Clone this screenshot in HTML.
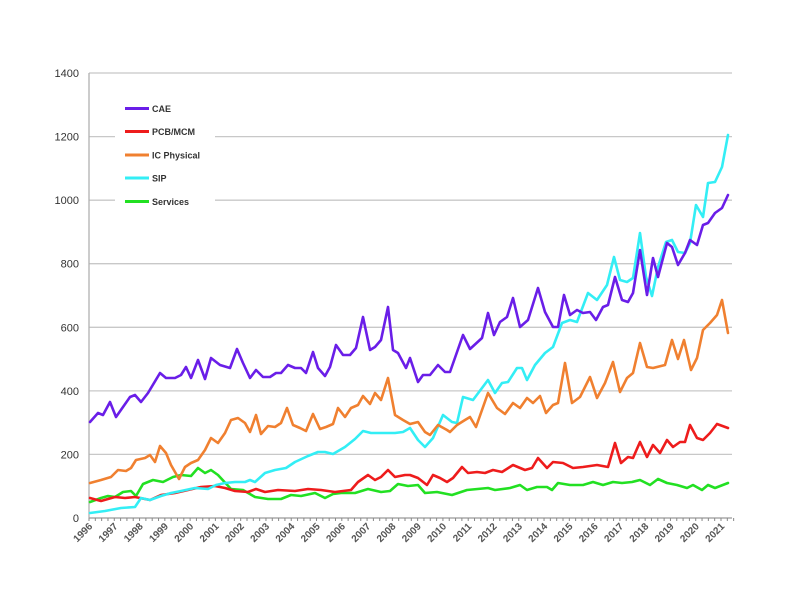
<!DOCTYPE html>
<html><head><meta charset="utf-8"><style>
html,body{margin:0;padding:0;background:#fff;}
svg{display:block;font-family:"Liberation Sans",Arial,sans-serif;}
</style></head><body>
<svg id="c" width="800" height="600" viewBox="0 0 800 600" xmlns="http://www.w3.org/2000/svg">
<g stroke="#c8c8c8" stroke-width="1.3">
<line x1="89" y1="73" x2="732" y2="73"/>
<line x1="89" y1="136.6" x2="115" y2="136.6"/><line x1="215" y1="136.6" x2="732" y2="136.6"/>
<line x1="89" y1="200.2" x2="115" y2="200.2"/><line x1="215" y1="200.2" x2="732" y2="200.2"/>
<line x1="89" y1="263.7" x2="732" y2="263.7"/>
<line x1="89" y1="327.3" x2="732" y2="327.3"/>
<line x1="89" y1="390.9" x2="732" y2="390.9"/>
<line x1="89" y1="454.4" x2="732" y2="454.4"/>
</g>
<line x1="89" y1="73" x2="89" y2="518" stroke="#b0b0b0" stroke-width="1.3"/>
<line x1="89" y1="518" x2="732" y2="518" stroke="#999" stroke-width="1.3"/>
<g id="ticks" stroke="#888" stroke-width="1"></g>
<g font-size="11" fill="#333" text-anchor="end">
<text x="79" y="77">1400</text><text x="79" y="140.6">1200</text><text x="79" y="204.2">1000</text>
<text x="79" y="267.7">800</text><text x="79" y="331.3">600</text><text x="79" y="394.9">400</text>
<text x="79" y="458.4">200</text><text x="79" y="522">0</text>
</g>
<g id="xl" font-size="10" font-weight="bold" fill="#555" text-anchor="end"></g>
<g fill="none" stroke-width="2.6" stroke-linejoin="round" stroke-linecap="round">
<polyline stroke="#22e022" points="90,502 101,498 108,496 115,497 123,492 131,491 136,496 143,484 153,480 163,482 173,477 181,475 191,476 198,468 205,473 211,470 218,475 231,489 243,490 255,497 268,499 281,499 291,495 301,496 315,493 325,498 333,494 341,493 355,493 368,489 381,492 390,491 398,484 408,486 418,485 425,493 437,492 452,495 467,490 488,488 495,490 510,488 520,485 527,490 537,487 547,487 552,490 558,483 570,485 583,485 593,482 603,485 613,482 622,483 632,482 640,480 650,485 658,479 667,483 677,485 687,488 693,485 702,490 708,485 715,488 728,483"/>
<polyline stroke="#ee1c1c" points="90,498 101,501 115,497 125,498 135,497 150,500 161,495 175,493 188,490 201,487 215,486 225,488 235,491 248,492 256,489 265,492 278,490 295,491 308,489 321,490 335,492 351,490 358,482 368,475 375,480 381,477 388,470 395,477 405,475 410,475 418,478 427,485 433,475 440,478 447,482 453,478 462,467 468,473 477,472 485,473 493,470 502,472 513,465 525,470 532,468 538,458 547,468 553,462 563,463 573,468 583,467 597,465 608,467 615,443 621,463 628,457 633,458 640,442 647,457 653,445 660,453 667,440 673,447 680,442 685,442 690,425 697,438 703,440 710,433 717,424 728,428"/>
<polyline stroke="#33eef5" points="90,513 105,511 121,508 135,507 141,498 150,500 161,496 171,493 181,491 195,488 208,489 216,485 225,483 235,482 245,482 250,480 255,482 265,473 275,470 286,468 295,462 308,456 318,452 325,452 333,454 345,447 355,439 363,431 371,433 381,433 395,433 403,432 410,428 418,440 425,447 433,438 443,415 452,422 457,423 463,397 473,400 488,380 495,393 502,383 508,382 517,368 522,368 527,380 535,365 545,353 553,347 562,323 570,320 577,322 588,293 597,300 607,285 614,257 620,280 627,282 633,278 640,233 646,277 652,296 658,267 666,242 672,240 678,252 685,253 690,243 696,205 703,217 708,183 715,182 722,167 728,135"/>
<polyline stroke="#f08030" points="90,483 101,480 111,477 118,470 126,471 131,468 136,460 145,458 150,455 155,462 160,446 166,453 171,465 179,479 185,467 191,463 198,460 205,450 211,438 218,443 225,433 231,420 238,418 245,423 250,432 256,415 261,434 268,426 275,427 281,423 287,408 293,425 300,428 306,431 313,414 320,429 326,427 333,424 338,408 345,417 351,408 358,405 363,396 370,404 375,393 381,400 388,378 395,415 403,420 410,424 418,422 425,432 430,435 438,425 447,430 450,432 457,425 465,420 470,417 476,427 488,393 497,408 505,414 513,403 520,408 527,398 533,403 540,396 546,413 553,405 558,403 565,363 572,403 580,397 590,377 597,398 605,383 613,362 620,392 627,378 633,373 640,343 647,367 653,368 665,365 672,340 678,359 684,340 691,370 697,358 703,330 710,323 717,315 722,300 728,333"/>
<polyline stroke="#6a1ee8" points="90,422 98,413 103,415 110,402 116,417 123,407 130,397 135,395 141,402 148,393 160,373 166,378 175,378 181,375 186,367 191,378 198,360 205,379 211,358 220,365 230,368 237,349 243,363 250,378 256,370 263,377 270,377 276,373 281,373 288,365 295,368 301,368 306,373 313,352 318,368 325,376 330,367 336,345 343,355 350,355 356,348 363,317 370,350 375,347 381,340 388,307 393,350 398,353 406,368 410,358 418,382 423,375 430,375 438,365 445,372 450,372 463,335 470,349 482,338 488,313 494,335 500,322 507,317 513,298 520,327 528,320 538,288 545,312 553,327 558,327 564,295 570,315 577,310 583,313 590,312 596,320 603,307 608,305 615,277 622,300 628,302 633,293 640,250 647,295 653,258 658,277 667,243 672,247 678,265 685,253 690,240 697,245 703,225 708,223 715,213 722,208 728,195"/>
</g>
<g stroke-width="3">
<line x1="125" y1="108.5" x2="149" y2="108.5" stroke="#6a1ee8"/>
<line x1="125" y1="131.5" x2="149" y2="131.5" stroke="#ee1c1c"/>
<line x1="125" y1="155" x2="149" y2="155" stroke="#f08030"/>
<line x1="125" y1="178" x2="149" y2="178" stroke="#33eef5"/>
<line x1="125" y1="201.5" x2="149" y2="201.5" stroke="#22e022"/>
</g>
<g font-size="9" font-weight="bold" fill="#333">
<text x="152" y="112">CAE</text><text x="152" y="135">PCB/MCM</text><text x="152" y="158.5">IC Physical</text>
<text x="152" y="181.5">SIP</text><text x="152" y="205">Services</text>
</g>
</svg>
<script>
var t=document.getElementById('ticks'),xl=document.getElementById('xl'),ns='http://www.w3.org/2000/svg';
for(var i=0;i<=102;i++){var x=89+i*6.32;var l=document.createElementNS(ns,'line');l.setAttribute('x1',x);l.setAttribute('x2',x);l.setAttribute('y1',518);l.setAttribute('y2',521);t.appendChild(l);}
for(var y=1996;y<=2021;y++){var x=93+(y-1996)*25.28;var e=document.createElementNS(ns,'text');e.setAttribute('transform','translate('+x+',527) rotate(-45)');e.textContent=y;xl.appendChild(e);}
</script>
</body></html>
